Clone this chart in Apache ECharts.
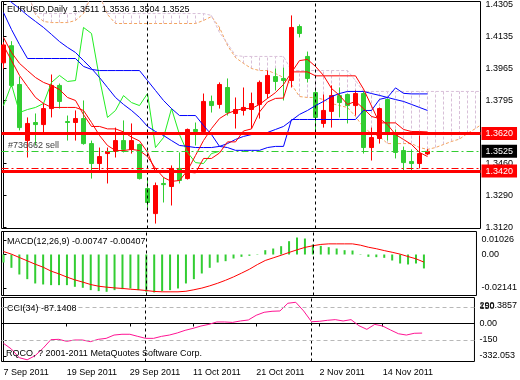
<!DOCTYPE html>
<html><head><meta charset="utf-8">
<script src="https://cdn.jsdelivr.net/npm/echarts@6/dist/echarts.min.js"></script>
<style>html,body{margin:0;padding:0;background:#fff}#c{width:520px;height:380px}</style>
</head><body><div id="c"></div>
<script>
const FONT = "'Liberation Sans', Arial, sans-serif";
const dateLabels = ['7 Sep 2011','19 Sep 2011','29 Sep 2011','11 Oct 2011','21 Oct 2011','2 Nov 2011','14 Nov 2011'];
const dateTickIdx = [0,8,16,24,32,40,48];
const separatorIdx = [18,39];

const opens = [1.3995,1.4086,1.3880,1.3582,1.3678,1.3667,1.3752,1.3875,1.3683,1.3678,
1.3699,1.3566,1.3460,1.3513,1.3524,1.3582,1.3535,1.3561,1.3327,1.3194,
1.3354,1.3338,1.3434,1.3380,1.3641,1.3630,1.3790,1.3774,1.3864,1.3726,
1.3742,1.3747,1.3774,1.3832,1.3922,1.3912,1.3901,1.4188,1.4029,1.3837,
1.3673,1.3737,1.3821,1.3827,1.3768,1.3832,1.3545,1.3593,1.3800,1.3620,
1.3529,1.3471,1.3460,1.3511];
const highs = [1.4105,1.4110,1.3922,1.3705,1.3726,1.3779,1.3933,1.3885,1.3715,1.3742,
1.3795,1.3582,1.3545,1.3545,1.3651,1.3689,1.3673,1.3566,1.3386,1.3359,
1.3386,1.3450,1.3519,1.3646,1.3678,1.3832,1.3821,1.3891,1.3912,1.3811,
1.3864,1.3837,1.3901,1.3954,1.3965,1.3970,1.4247,1.4199,1.4055,1.3859,
1.3827,1.3875,1.3864,1.3832,1.3848,1.3843,1.3651,1.3758,1.3806,1.3641,
1.3550,1.3535,1.3609,1.3536];
const lows = [1.3965,1.3866,1.3636,1.3492,1.3556,1.3620,1.3705,1.3752,1.3582,1.3582,
1.3560,1.3380,1.3418,1.3354,1.3492,1.3519,1.3513,1.3375,1.3226,1.3141,
1.3253,1.3237,1.3354,1.3375,1.3556,1.3620,1.3731,1.3752,1.3715,1.3646,
1.3715,1.3646,1.3699,1.3806,1.3848,1.3795,1.3864,1.4130,1.3891,1.3604,
1.3651,1.3651,1.3705,1.3673,1.3715,1.3513,1.3476,1.3566,1.3582,1.3487,
1.3418,1.3412,1.3434,1.3504];
const closes = [1.4090,1.3875,1.3651,1.3673,1.3667,1.3752,1.3875,1.3790,1.3678,1.3699,
1.3566,1.3460,1.3497,1.3524,1.3582,1.3535,1.3582,1.3380,1.3253,1.3343,
1.3348,1.3434,1.3370,1.3641,1.3630,1.3790,1.3768,1.3880,1.3731,1.3747,
1.3758,1.3779,1.3891,1.3928,1.3896,1.3901,1.4183,1.4151,1.3912,1.3705,
1.3742,1.3821,1.3784,1.3768,1.3832,1.3545,1.3598,1.3752,1.3614,1.3519,
1.3465,1.3460,1.3513,1.3525];

const tenkan = [1.4130,1.4050,1.3992,1.3954,1.3917,1.3891,1.3875,1.3853,1.3811,1.3795,
1.3720,1.3657,1.3657,1.3644,1.3644,1.3628,1.3600,1.3580,1.3520,1.3415,
1.3415,1.3415,1.3415,1.3415,1.3410,1.3487,1.3487,1.3516,1.3575,1.3575,
1.3633,1.3644,1.3734,1.3787,1.3806,1.3808,1.3947,1.3947,1.3947,1.3926,
1.3926,1.3926,1.3926,1.3926,1.3926,1.3856,1.3766,1.3676,1.3676,1.3676,
1.3641,1.3630,1.3630,1.3628];
const kijun = [1.4262,1.4172,1.4092,1.4018,1.4018,1.4018,1.4018,1.4018,1.4018,1.4018,
1.3976,1.3960,1.3954,1.3954,1.3954,1.3954,1.3954,1.3954,1.3901,1.3848,
1.3795,1.3752,1.3715,1.3715,1.3715,1.3662,1.3614,1.3551,1.3545,1.3530,
1.3530,1.3530,1.3530,1.3545,1.3551,1.3551,1.3694,1.3694,1.3694,1.3694,
1.3694,1.3694,1.3694,1.3694,1.3694,1.3742,1.3742,1.3801,1.3811,1.3862,
1.3833,1.3830,1.3830,1.3830];
const maFast = [1.4087,1.4007,1.3928,1.3869,1.3811,1.3779,1.3758,1.3758,1.3758,1.3758,
1.3742,1.3678,1.3609,1.3556,1.3529,1.3529,1.3535,1.3529,1.3497,1.3434,
1.3386,1.3365,1.3370,1.3423,1.3503,1.3582,1.3646,1.3699,1.3726,1.3742,
1.3752,1.3752,1.3774,1.3806,1.3837,1.3880,1.3944,1.4007,1.4013,1.3976,
1.3928,1.3859,1.3822,1.3774,1.3790,1.3752,1.3710,1.3699,1.3667,1.3614,
1.3588,1.3561,1.3519,1.3497];
const maSlow = [1.4353,1.4316,1.4284,1.4247,1.4215,1.4183,1.4146,1.4108,1.4077,1.4050,
1.4007,1.3965,1.3917,1.3864,1.3811,1.3774,1.3742,1.3705,1.3657,1.3630,
1.3609,1.3582,1.3556,1.3551,1.3545,1.3545,1.3545,1.3551,1.3566,1.3588,
1.3604,1.3614,1.3620,1.3625,1.3641,1.3657,1.3689,1.3721,1.3742,1.3768,
1.3790,1.3816,1.3832,1.3843,1.3843,1.3843,1.3832,1.3822,1.3811,1.3800,
1.3790,1.3774,1.3758,1.3742];
const chikou = [1.3768,1.3880,1.3731,1.3747,1.3758,1.3779,1.3891,1.3928,1.3896,1.3901,
1.4183,1.4151,1.3912,1.3705,1.3742,1.3821,1.3784,1.3768,1.3832,1.3545,
1.3598,1.3752,1.3614,1.3519,1.3465,1.3460,1.3513,1.3525];
const spanA = [1.4369,1.4369,1.4369,1.4369,1.4252,1.4215,1.4209,1.4209,1.4209,1.4220,
1.4257,1.4353,1.4353,1.4252,1.4204,1.4204,1.4204,1.4204,1.4204,1.4204,
1.4204,1.4204,1.4204,1.4204,1.4204,1.4220,1.4241,1.4183,1.4087,1.4023,
1.3992,1.3965,1.3954,1.3954,1.3938,1.3917,1.3880,1.3816,1.3811,1.3811,
1.3800,1.3779,1.3768,1.3758,1.3710,1.3652,1.3620,1.3604,1.3566,1.3566,
1.3566,1.3566,1.3545,1.3535,1.3545,1.3561,1.3577,1.3590,1.3620,1.3646,1.3675];
const spanB = [1.4369,1.4369,1.4369,1.4369,1.4257,1.4257,1.4257,1.4257,1.4257,1.4257,
1.4273,1.4353,1.4353,1.4257,1.4257,1.4257,1.4257,1.4257,1.4257,1.4257,
1.4257,1.4257,1.4257,1.4257,1.4257,1.4257,1.4247,1.4156,1.4098,1.4034,
1.4029,1.4029,1.4029,1.4029,1.4029,1.4029,1.3954,1.3954,1.3954,1.3954,
1.3954,1.3954,1.3954,1.3954,1.3901,1.3843,1.3843,1.3843,1.3843,1.3843,
1.3843,1.3843,1.3843,1.3843,1.3843,1.3843,1.3843,1.3843,1.3843,1.3843,1.3843];

const macdHist = [-0.00428,-0.00714,-0.01071,-0.01321,-0.01552,-0.01606,-0.01642,-0.01642,-0.01642,-0.01731,
-0.01784,-0.01909,-0.01963,-0.01999,-0.01909,-0.01856,-0.01820,-0.01909,-0.01999,-0.02034,
-0.01963,-0.01909,-0.01820,-0.01552,-0.01321,-0.01017,-0.00714,-0.00428,-0.00357,-0.00214,
-0.00125,-0.00071,-0.00020,0.00232,0.00321,0.00446,0.00714,0.00910,0.00857,0.00535,
0.00464,0.00393,0.00321,0.00232,0.00214,0.00020,-0.00125,-0.00143,-0.00178,-0.00321,
-0.00482,-0.00535,-0.00482,-0.00747];
const macdSignal = [0.0016,0.0002,-0.0016,-0.0034,-0.0052,-0.0068,-0.0089,-0.0104,-0.0121,-0.0136,
-0.0148,-0.0161,-0.0170,-0.0175,-0.0179,-0.0182,-0.0186,-0.0189,-0.0193,-0.0198,
-0.0200,-0.0200,-0.0200,-0.0197,-0.0189,-0.0180,-0.0168,-0.0154,-0.0138,-0.0120,
-0.0100,-0.0079,-0.0054,-0.0032,-0.0018,-0.0004,0.0011,0.0025,0.0038,0.0047,
0.0054,0.0057,0.0057,0.0057,0.0057,0.0050,0.0039,0.0031,0.0021,0.0012,
0.0002,-0.0011,-0.0023,-0.00407];
const cci = [-180,-232,-311,-330,-293,-226,-147,-144,-162,-150,
-150,-165,-144,-135,-105,-98,-98,-117,-135,-135,
-117,-105,-86,-62,-44,-23,-8,14,14,10,
23,32,75,102,111,114,184,193,114,16,
20,29,35,23,35,-20,-53,-8,-23,-59,
-93,-105,-89,-87.14];

const priceTicks = [1.4305,1.4135,1.3965,1.3795,1.3625,1.3460,1.3290,1.3120];
const priceLabelVals = [1.4305,1.4135,1.3965,1.3795,1.3460,1.3290,1.3120];
const hLevels = [1.3620,1.3420];
const orderLevel = 1.3525;
const stopLevel = 1.3437;
const macdTickVals = [0.00777,0,-0.01795];
const macdTickLabels = ['0.01026','0.00','-0.02141'];
const cciTickVals = [150,0,-150,-295];
const cciTickLabels = ['150','0.00','-150','-332.053'];
const cciMaxVal = [159];
const cciMaxLabel = ['290.3857'];
const cciLevels = [150,-150];

const XMIN = -0.25, XMAX = 59.625;
const pairs = arr => arr.map((v,i)=>[i,v]);
const nearestLabel = (vals, labels) => v => {
  let best = 0; for (let k=1;k<vals.length;k++) if (Math.abs(vals[k]-v) < Math.abs(vals[best]-v)) best = k;
  return labels[best];
};
const sepLines = separatorIdx.map(i => ({xAxis:i, lineStyle:{color:'#000',type:[3,3],width:1}, label:{show:false}}));
const boxLabel = (txt,bg) => ({show:true, position:'end', distance:1, formatter:txt, backgroundColor:bg, color:'#fff',
  fontSize:9, fontFamily:FONT, padding:[2,4,1,4], lineHeight:10});
const lineS = (data, color, extra) => Object.assign({type:'line', data, showSymbol:false, symbol:'none', silent:true,
  lineStyle:{width:1,color}, xAxisIndex:0, yAxisIndex:0, z:4, animation:false}, extra||{});
const txt = (text,left,top,color) => ({text, left, top, padding:0,
  textStyle:{fontSize:9, fontWeight:'normal', fontFamily:FONT, color:color||'#000', lineHeight:11}});

const yAxisBase = (gi, min, max) => ({type:'value', gridIndex:gi, position:'right', min, max, scale:true,
  axisLine:{show:true, lineStyle:{color:'#000',width:1}}, splitLine:{show:false},
  axisTick:{show:true, length:3, lineStyle:{color:'#000'}},
  axisLabel:{fontSize:9, fontFamily:FONT, color:'#000', margin:5}});

const yMain = yAxisBase(0, 1.31148, 1.43209);
yMain.axisTick.customValues = priceTicks;
yMain.axisLabel.customValues = priceLabelVals;
yMain.axisLabel.formatter = v => v.toFixed(4);
const yMacd = yAxisBase(1, -0.02197, 0.01233);
yMacd.axisTick.customValues = macdTickVals;
yMacd.axisLabel.customValues = macdTickVals;
yMacd.axisLabel.formatter = nearestLabel(macdTickVals, macdTickLabels);
const yCci = yAxisBase(2, -345.5, 236.4);
yCci.axisTick.customValues = cciTickVals;
yCci.axisLabel.customValues = cciTickVals;
yCci.axisLabel.formatter = nearestLabel(cciTickVals, cciTickLabels);
const yCci2 = yAxisBase(2, -345.5, 236.4);
yCci2.axisLine.show = false;
yCci2.axisTick.show = false;
yCci2.axisLabel.customValues = cciMaxVal;
yCci2.axisLabel.formatter = () => cciMaxLabel[0];

const xHidden = gi => ({type:'value', gridIndex:gi, min:XMIN, max:XMAX, show:false, splitLine:{show:false}});
const xBottom = {type:'value', gridIndex:2, min:XMIN, max:XMAX, position:'bottom',
  axisLine:{show:true, lineStyle:{color:'#000'}}, splitLine:{show:false},
  axisTick:{show:true, length:3, customValues:dateTickIdx, lineStyle:{color:'#000'}},
  axisLabel:{customValues:dateTickIdx, align:'left', margin:7, fontSize:9, fontFamily:FONT, color:'#000',
    formatter: v => dateLabels[Math.round(v/8)]}};

const option = {
  animation:false,
  backgroundColor:'#fff',
  title:[
    txt('EURUSD,Daily  1.3511 1.3536 1.3504 1.3525', 7, 4),
    txt('#736662 sell', 8, 140, '#444'),
    txt('MACD(12,26,9) -0.00747 -0.00407', 7, 236),
    txt('CCI(34) -87.1408', 7, 303),
    txt('RQCO, ? 2001-2011 MetaQuotes Software Corp.', 6, 348)
  ],
  grid:[
    {left:1.5, top:1.5, width:479, height:227, show:true, borderColor:'#000', borderWidth:1, backgroundColor:'#fff'},
    {left:1.5, top:231.5, width:479, height:64, show:true, borderColor:'#000', borderWidth:1, backgroundColor:'#fff'},
    {left:1.5, top:297.5, width:479, height:64, show:true, borderColor:'#000', borderWidth:1, backgroundColor:'#fff'}
  ],
  xAxis:[xHidden(0), xHidden(1), xBottom],
  yAxis:[yMain, yMacd, yCci, yCci2],
  series:[
    {type:'custom', xAxisIndex:0, yAxisIndex:0, clip:true, silent:true, z:1,
      data: spanA.map((a,i)=>[i,a,spanB[i]]), encode:{x:0,y:[1,2]},
      renderItem:(params,api)=>{
        const x=api.value(0), a=api.value(1), b=api.value(2);
        const p1=api.coord([x,a]), p2=api.coord([x,b]);
        return {type:'line', shape:{x1:p1[0],y1:p1[1],x2:p2[0],y2:p2[1]},
          style:{stroke: a>b ? '#f4a460' : '#d8bfd8', lineWidth:1, lineDash:[3,2]}};
      }},
    lineS(pairs(spanA), '#f4a460', {lineStyle:{width:1,color:'#f4a460',type:[3,2]}, z:2}),
    lineS(pairs(spanB), '#d8bfd8', {lineStyle:{width:1,color:'#d8bfd8',type:[3,2]}, z:2}),
    {type:'candlestick', xAxisIndex:0, yAxisIndex:0, barWidth:4, silent:true, z:3,
      data: opens.map((o,i)=>[i,o,closes[i],lows[i],highs[i]]), encode:{x:0,y:[1,2,3,4]},
      itemStyle:{color:'#ff0000', color0:'#32cd32', borderColor:'#ff0000', borderColor0:'#32cd32', borderWidth:1},
      markLine:{symbol:['none','none'], silent:true, animation:false, precision:4, z:6,
        data: sepLines.concat([
          {yAxis:stopLevel, lineStyle:{color:'#ff0000',type:[7,3,2,3],width:1}, label:{show:false}},
          {yAxis:orderLevel, lineStyle:{color:'#32cd32',type:[7,3,2,3],width:1}, label:boxLabel(orderLevel.toFixed(4),'#000')},
          {yAxis:hLevels[0], lineStyle:{color:'#ff0000',type:'solid',width:3}, label:boxLabel(hLevels[0].toFixed(4),'#ff0000')},
          {yAxis:hLevels[1], lineStyle:{color:'#ff0000',type:'solid',width:3}, label:boxLabel(hLevels[1].toFixed(4),'#ff0000')}
        ])}},
    lineS(pairs(chikou), '#22ee22'),
    lineS(pairs(maSlow), '#0000ff'),
    lineS(pairs(kijun), '#0000ff'),
    lineS(pairs(maFast), '#ff0000'),
    lineS(pairs(tenkan), '#ff0000'),
    {type:'bar', xAxisIndex:1, yAxisIndex:1, barWidth:2, silent:true, z:2,
      data: pairs(macdHist), itemStyle:{color:'#32cd32'},
      markLine:{symbol:['none','none'], silent:true, animation:false, data: sepLines}},
    lineS(pairs(macdSignal), '#ff0000', {xAxisIndex:1, yAxisIndex:1}),
    lineS(pairs(cci), '#ff1493', {xAxisIndex:2, yAxisIndex:2,
      markLine:{symbol:['none','none'], silent:true, animation:false, precision:4,
        data: sepLines.concat(cciLevels.map(v=>({yAxis:v, lineStyle:{color:'#b8b8b8',type:[4,3],width:1}, label:{show:false}})))}})
  ]
};
echarts.init(document.getElementById('c'), null, {renderer:'canvas'}).setOption(option);
</script></body></html>
